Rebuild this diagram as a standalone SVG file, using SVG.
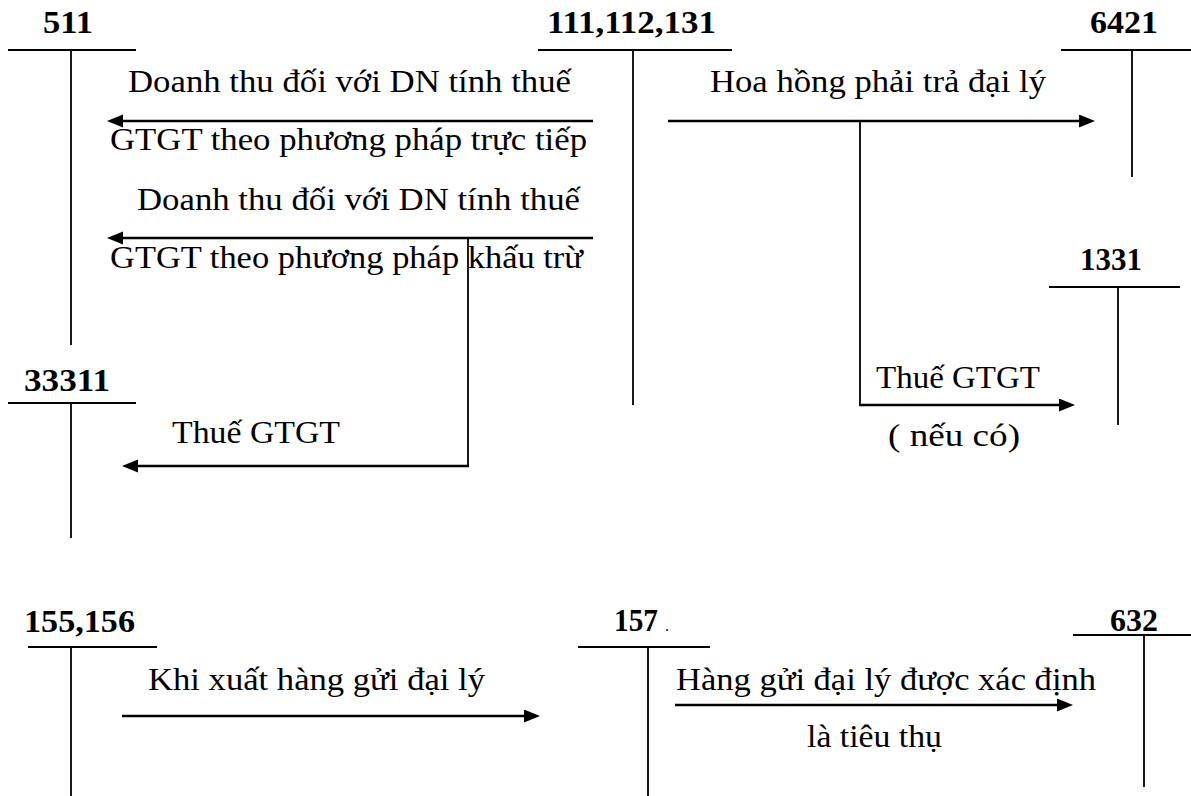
<svg xmlns="http://www.w3.org/2000/svg" width="1191" height="796" viewBox="0 0 1191 796">
<style>
.acc{font-weight:bold;font-size:31px;fill:#000}
.lbl{font-size:32px;fill:#000}
.t{stroke:#000;stroke-width:1.8;fill:none}
.a{stroke:#000;stroke-width:2.6;fill:none}
</style>
<defs>
<marker id="ah" markerUnits="userSpaceOnUse" markerWidth="18" markerHeight="14" refX="8" refY="6.5" orient="auto">
<path d="M0,0 L16,6.5 L0,13 z" fill="#000"/>
</marker>
</defs>
<rect width="1191" height="796" fill="#fff"/>
<g font-family="Liberation Serif, Times New Roman, DejaVu Serif, serif">
<g id="acc511">
<text class="acc" x="43" y="33" textLength="50" lengthAdjust="spacingAndGlyphs">511</text>
<line class="t" x1="8" y1="50" x2="136" y2="50"/>
<line class="t" x1="71" y1="50" x2="71" y2="345"/>
</g>
<g id="acc111">
<text class="acc" x="547" y="33" textLength="169" lengthAdjust="spacingAndGlyphs">111,112,131</text>
<line class="t" x1="538" y1="50" x2="732" y2="50"/>
<line class="t" x1="633" y1="50" x2="633" y2="405"/>
</g>
<g id="acc6421">
<text class="acc" x="1090" y="33" textLength="68" lengthAdjust="spacingAndGlyphs">6421</text>
<line class="t" x1="1061" y1="50" x2="1191" y2="50"/>
<line class="t" x1="1132" y1="50" x2="1132" y2="177"/>
</g>
<g id="acc1331">
<text class="acc" x="1080" y="270" textLength="62" lengthAdjust="spacingAndGlyphs">1331</text>
<line class="t" x1="1049" y1="287" x2="1180" y2="287"/>
<line class="t" x1="1118" y1="287" x2="1118" y2="425"/>
</g>
<g id="acc33311">
<text class="acc" x="24" y="391" textLength="86" lengthAdjust="spacingAndGlyphs">33311</text>
<line class="t" x1="8" y1="403" x2="136" y2="403"/>
<line class="t" x1="71" y1="403" x2="71" y2="538"/>
</g>
<g id="acc155">
<text class="acc" x="24" y="632" textLength="111" lengthAdjust="spacingAndGlyphs">155,156</text>
<line class="t" x1="28" y1="647" x2="157" y2="647"/>
<line class="t" x1="71" y1="647" x2="71" y2="796"/>
</g>
<g id="acc157">
<text class="acc" x="614" y="631" textLength="44" lengthAdjust="spacingAndGlyphs">157</text>
<text class="lbl" x="665" y="631" style="font-size:16px">.</text>
<line class="t" x1="578" y1="647" x2="710" y2="647"/>
<line class="t" x1="648" y1="647" x2="648" y2="796"/>
</g>
<g id="acc632">
<text class="acc" x="1110" y="631" textLength="48" lengthAdjust="spacingAndGlyphs">632</text>
<line class="t" x1="1073" y1="635" x2="1191" y2="635"/>
<line class="t" x1="1144" y1="635" x2="1144" y2="787"/>
</g>

<g id="connectors">
<line class="a" x1="593" y1="121" x2="115" y2="121" marker-end="url(#ah)"/>
<line class="a" x1="593" y1="238" x2="115" y2="238" marker-end="url(#ah)"/>
<line class="t" x1="468" y1="238" x2="468" y2="466"/>
<line class="a" x1="469" y1="466" x2="130" y2="466" marker-end="url(#ah)"/>
<line class="a" x1="668" y1="121" x2="1087" y2="121" marker-end="url(#ah)"/>
<line class="t" x1="860" y1="121" x2="860" y2="405"/>
<line class="a" x1="859" y1="405" x2="1067" y2="405" marker-end="url(#ah)"/>
<line class="a" x1="122" y1="716" x2="532" y2="716" marker-end="url(#ah)"/>
<line class="a" x1="675" y1="705" x2="1065" y2="705" marker-end="url(#ah)"/>
</g>

<g id="labels">
<text class="lbl" x="128" y="92" textLength="443" lengthAdjust="spacingAndGlyphs">Doanh thu đối với DN tính thuế</text>
<text class="lbl" x="110" y="150" textLength="477" lengthAdjust="spacingAndGlyphs">GTGT theo phương pháp trực tiếp</text>
<text class="lbl" x="137" y="210" textLength="443" lengthAdjust="spacingAndGlyphs">Doanh thu đối với DN tính thuế</text>
<text class="lbl" x="110" y="268" textLength="473" lengthAdjust="spacingAndGlyphs">GTGT theo phương pháp khấu trừ</text>
<text class="lbl" x="172" y="443" textLength="168" lengthAdjust="spacingAndGlyphs">Thuế GTGT</text>
<text class="lbl" x="710" y="92" textLength="336" lengthAdjust="spacingAndGlyphs">Hoa hồng phải trả đại lý</text>
<text class="lbl" x="876" y="388" textLength="164" lengthAdjust="spacingAndGlyphs">Thuế GTGT</text>
<text class="lbl" x="888" y="446" textLength="132" lengthAdjust="spacingAndGlyphs">( nếu có)</text>
<text class="lbl" x="148" y="690" textLength="337" lengthAdjust="spacingAndGlyphs">Khi xuất hàng gửi đại lý</text>
<text class="lbl" x="676" y="690" textLength="420" lengthAdjust="spacingAndGlyphs">Hàng gửi đại lý được xác định</text>
<text class="lbl" x="807" y="747" textLength="135" lengthAdjust="spacingAndGlyphs">là tiêu thụ</text>
</g>
</g>
</svg>
